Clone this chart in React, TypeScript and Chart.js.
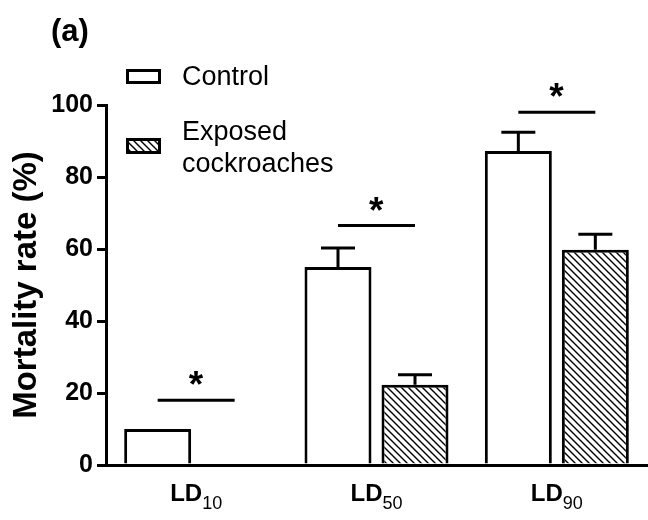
import React, { useEffect, useRef } from "react";
import { Chart, registerables } from "chart.js";

Chart.register(...registerables);

// ---- data ----
const categoryPrefix = "LD";
const categorySubscripts = ["10", "50", "90"];
const seriesNames = ["Control", "Exposed cockroaches"];
const legendLines = [["Control"], ["Exposed", "cockroaches"]];
const controlValues = [10, 55, 87.2];
const exposedValues = [0, 22.3, 59.8];
const controlErrors = [0, 5.3, 5.2];
const exposedErrors = [0, 2.8, 4.3];
const significanceLevels = [18, 66.5, 98];
const significanceMarks = ["*", "*", "*"];
const yMin = 0;
const yMax = 100;
const yStep = 20;
const yTitle = "Mortality rate (%)";
const panelLabel = "(a)";

const FONT = "'Liberation Sans', Arial, Helvetica, sans-serif";

function makeHatch(): CanvasPattern | string {
  const s = 7;
  const c = document.createElement("canvas");
  c.width = s;
  c.height = s;
  const g = c.getContext("2d");
  if (!g) return "#fff";
  g.fillStyle = "#fff";
  g.fillRect(0, 0, s, s);
  g.strokeStyle = "#000";
  g.lineWidth = 1.4;
  g.beginPath();
  for (let k = -1; k <= 1; k++) {
    g.moveTo(k * s - 1, -1);
    g.lineTo(k * s + s + 1, s + 1);
  }
  g.stroke();
  const p = g.createPattern(c, "repeat");
  return p || "#fff";
}

function drawCentered(ctx: CanvasRenderingContext2D, text: string, cx: number, cy: number) {
  const m = ctx.measureText(text);
  const a = m.actualBoundingBoxAscent;
  const d = m.actualBoundingBoxDescent;
  const l = m.actualBoundingBoxLeft;
  const r = m.actualBoundingBoxRight;
  ctx.textAlign = "left";
  ctx.textBaseline = "alphabetic";
  ctx.fillText(text, cx - (r - l) / 2, cy + (a - d) / 2);
}

export default function App() {
  const ref = useRef<HTMLCanvasElement>(null);

  useEffect(() => {
    const canvas = ref.current;
    if (!canvas) return;
    const hatch = makeHatch();
    const fills = ["#ffffff", hatch];
    const errors = [controlErrors, exposedErrors];

    const errorBars = {
      id: "errorBars",
      afterDatasetsDraw(chart: any) {
        const ctx = chart.ctx;
        const y = chart.scales.y;
        ctx.save();
        ctx.strokeStyle = "#000";
        ctx.lineWidth = 3;
        ctx.lineCap = "butt";
        chart.data.datasets.forEach((ds: any, i: number) => {
          const meta = chart.getDatasetMeta(i);
          meta.data.forEach((bar: any, j: number) => {
            const e = errors[i][j];
            if (!e) return;
            const top = y.getPixelForValue(ds.data[j] + e);
            ctx.beginPath();
            ctx.moveTo(bar.x, bar.y);
            ctx.lineTo(bar.x, top);
            ctx.moveTo(bar.x - 17, top);
            ctx.lineTo(bar.x + 17, top);
            ctx.stroke();
          });
        });
        ctx.restore();
      },
    };

    const annotations = {
      id: "annotations",
      afterDraw(chart: any) {
        const ctx = chart.ctx;
        const x = chart.scales.x;
        const y = chart.scales.y;
        const m0 = chart.getDatasetMeta(0);
        const m1 = chart.getDatasetMeta(1);
        ctx.save();
        ctx.fillStyle = "#000";
        ctx.strokeStyle = "#000";

        // significance bars + stars
        significanceLevels.forEach((lvl, j) => {
          const x1 = m0.data[j].x;
          const x2 = m1.data[j].x;
          const py = y.getPixelForValue(lvl);
          ctx.lineWidth = 3;
          ctx.beginPath();
          ctx.moveTo(x1, py);
          ctx.lineTo(x2, py);
          ctx.stroke();
          ctx.font = `bold 37px ${FONT}`;
          drawCentered(ctx, significanceMarks[j], (x1 + x2) / 2, py - 22);
        });

        // x category labels with subscripts
        const bigFont = `bold 24px ${FONT}`;
        const subFont = `18px ${FONT}`;
        categorySubscripts.forEach((sub, i) => {
          const cx = x.getPixelForTick(i);
          ctx.font = bigFont;
          const w1 = ctx.measureText(categoryPrefix).width;
          ctx.font = subFont;
          const w2 = ctx.measureText(sub).width;
          const start = cx - (w1 + w2) / 2;
          ctx.textAlign = "left";
          ctx.textBaseline = "alphabetic";
          ctx.font = bigFont;
          ctx.fillText(categoryPrefix, start, 501);
          ctx.font = subFont;
          ctx.fillText(sub, start + w1, 509);
        });

        // panel label
        ctx.font = `bold 31px ${FONT}`;
        ctx.textAlign = "left";
        ctx.textBaseline = "alphabetic";
        ctx.fillText(panelLabel, 51, 41);

        // legend
        const boxes = [
          { y: 69, h: 15 },
          { y: 138, h: 16 },
        ];
        const textBaselines = [[85], [140, 172]];
        boxes.forEach((b, i) => {
          ctx.fillStyle = fills[i] as any;
          ctx.fillRect(126, b.y, 35, b.h);
          ctx.lineWidth = 3;
          ctx.strokeStyle = "#000";
          ctx.strokeRect(127.5, b.y + 1.5, 32, b.h - 3);
          ctx.fillStyle = "#000";
          ctx.font = `27px ${FONT}`;
          legendLines[i].forEach((line, k) => {
            ctx.fillText(line, 182, textBaselines[i][k]);
          });
        });
        ctx.restore();
      },
    };

    const chart = new Chart(canvas, {
      type: "bar",
      data: {
        labels: categorySubscripts.map((s) => categoryPrefix + s),
        datasets: [
          {
            label: seriesNames[0],
            data: controlValues,
            backgroundColor: fills[0] as any,
            borderColor: "#000",
            borderWidth: 3,
            borderSkipped: "start",
            categoryPercentage: 0.854,
            barPercentage: 0.87,
          },
          {
            label: seriesNames[1],
            data: exposedValues,
            backgroundColor: fills[1] as any,
            borderColor: "#000",
            borderWidth: 3,
            borderSkipped: "start",
            categoryPercentage: 0.854,
            barPercentage: 0.87,
          },
        ],
      },
      options: {
        responsive: false,
        animation: false,
        devicePixelRatio: 1,
        layout: { padding: { top: 105, right: 1, left: 0, bottom: 0 } },
        plugins: {
          legend: { display: false },
          title: { display: false },
          tooltip: { enabled: false },
        },
        scales: {
          x: {
            offset: true,
            grid: { display: false, drawTicks: false },
            border: { display: true, color: "#000", width: 3 },
            ticks: { display: false },
            afterFit(scale: any) {
              scale.height = 55;
            },
          },
          y: {
            min: yMin,
            max: yMax,
            ticks: {
              stepSize: yStep,
              color: "#000",
              font: { family: FONT, size: 25, weight: "bold" },
              padding: 4,
            },
            grid: {
              drawOnChartArea: false,
              drawTicks: true,
              tickLength: 9,
              color: "#000",
              lineWidth: 3,
            },
            border: { display: true, color: "#000", width: 3 },
            title: {
              display: true,
              text: yTitle,
              color: "#000",
              font: { family: FONT, size: 33, weight: "bold" },
              padding: { top: 7, bottom: 0 },
            },
            afterFit(scale: any) {
              scale.width = 106;
            },
          },
        },
      },
      plugins: [errorBars, annotations],
    } as any);

    return () => chart.destroy();
  }, []);

  return (
    <div style={{ position: "absolute", left: 0, top: 0, width: 648, height: 520, background: "#fff" }}>
      <canvas ref={ref} width={648} height={520} style={{ display: "block" }} />
    </div>
  );
}
